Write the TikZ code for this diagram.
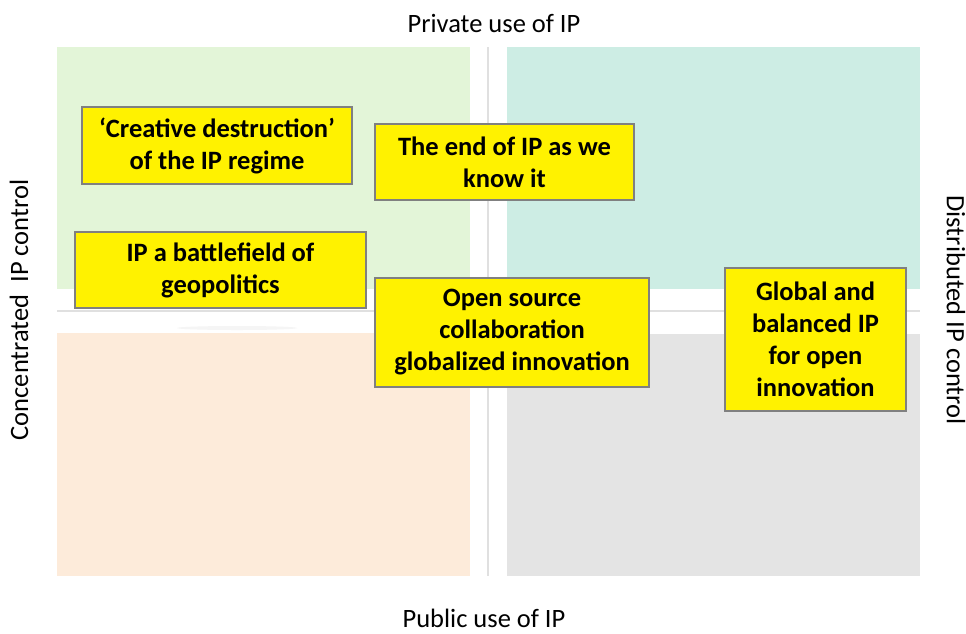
\documentclass[tikz,border=0pt]{standalone}
\usepackage{fontspec}
\setmainfont{Carlito}
\definecolor{qgreen}{RGB}{227,245,216}
\definecolor{qteal}{RGB}{205,237,228}
\definecolor{qorange}{RGB}{253,235,218}
\definecolor{qgrey}{RGB}{228,228,228}
\begin{document}
\begin{tikzpicture}[x=1pt,y=-1pt,
  idea/.style={draw=black!50,line width=1.2pt,fill=yellow,align=center,
    font=\fontsize{26.5}{32}\selectfont\bfseries,inner sep=0pt},
  axislabel/.style={font=\fontsize{26.5}{30}\selectfont,inner sep=0pt},
  axisline/.style={draw=black!12,line width=1.5pt}]
\useasboundingbox[fill=white] (0,0) rectangle (966,633);
% quadrants
\fill[qgreen] (57,47) rectangle (470,289);
\fill[qteal] (507,47) rectangle (920,289);
\fill[qorange] (57,333) rectangle (470,576);
\fill[qgrey] (507,334) rectangle (920,576);
% faint shadow below the horizontal axis
\fill[black!4] (237,328) ellipse [x radius=60,y radius=2];
% axes
\coordinate (vt) at (488,47);
\coordinate (vb) at (488,576);
\coordinate (hl) at (57,311);
\coordinate (hr) at (920,311);
\draw[axisline] (vt) -- (vb);
\draw[axisline] (hl) -- (hr);
% axis labels
\node[axislabel,anchor=base] (top) at (494,32) {Private use of IP};
\node[axislabel,anchor=base] (bot) at (484,627) {Public use of IP};
\node[axislabel,rotate=90] (left) at (19,310) {Concentrated\ \ IP control};
\node[axislabel,rotate=-90] (right) at (956,310) {Distributed IP control};
% scenario boxes
\node[idea,minimum width=270,minimum height=77] (cd) at (217,145.5) {‘Creative destruction’\\of the IP regime};
\node[idea,minimum width=291,minimum height=76] (bf) at (220.5,270) {IP a battlefield of\\geopolitics};
\node[idea,minimum width=259,minimum height=76] (end) at (504.5,162) {The end of IP as we\\know it};
\node[idea,minimum width=274,minimum height=109] (os) at (512,332.5) {Open source\\collaboration\\globalized innovation};
\node[idea,minimum width=181,minimum height=143] (gb) at (815.5,339.5) {Global and\\balanced IP\\for open\\innovation};
\end{tikzpicture}
\end{document}
